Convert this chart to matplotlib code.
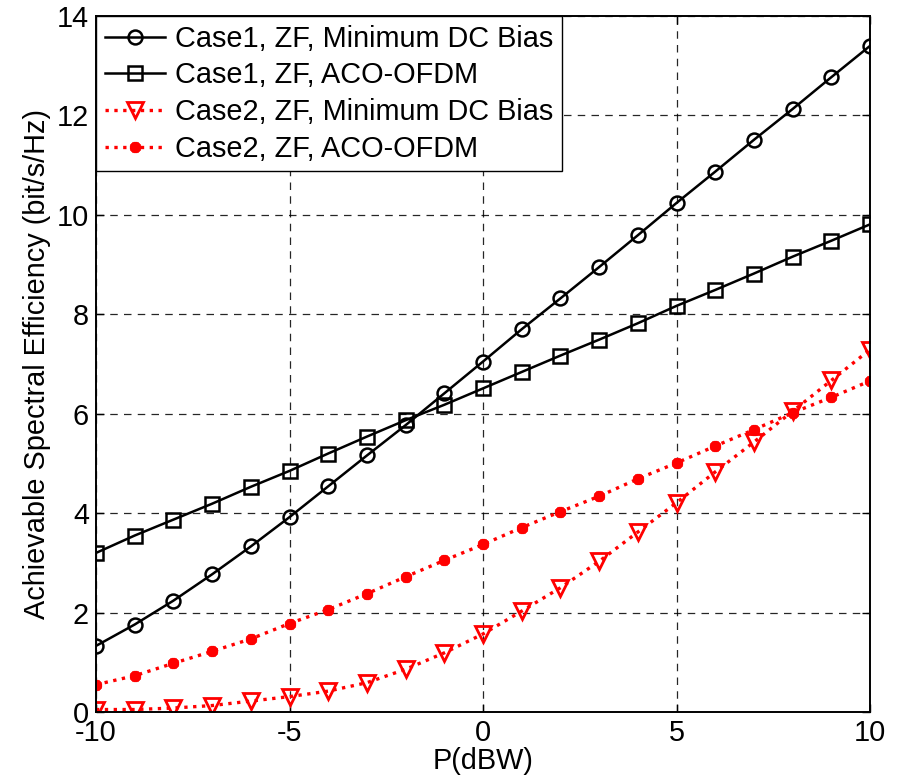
import matplotlib
matplotlib.use("Agg")
import matplotlib.pyplot as plt
import numpy as np

plt.rcParams['font.family'] = ['Liberation Sans', 'DejaVu Sans']
plt.rcParams['axes.unicode_minus'] = False

p_dbw = list(range(-10, 11))
case1_min_dc = [1.33, 1.76, 2.24, 2.77, 3.33, 3.92, 4.54, 5.16, 5.77, 6.41, 7.05,
                7.70, 8.32, 8.95, 9.59, 10.24, 10.87, 11.51, 12.13, 12.77, 13.40]
case1_aco = [3.20, 3.55, 3.87, 4.19, 4.53, 4.85, 5.20, 5.54, 5.87, 6.18, 6.51,
             6.84, 7.17, 7.49, 7.82, 8.17, 8.49, 8.82, 9.16, 9.48, 9.81]
case2_min_dc = [0.05, 0.05, 0.08, 0.13, 0.22, 0.31, 0.42, 0.59, 0.86, 1.19, 1.57,
                2.03, 2.50, 3.03, 3.62, 4.21, 4.83, 5.43, 6.05, 6.67, 7.29]
case2_aco = [0.55, 0.73, 0.98, 1.22, 1.47, 1.78, 2.06, 2.38, 2.72, 3.05, 3.37,
             3.71, 4.03, 4.34, 4.69, 5.01, 5.35, 5.68, 6.02, 6.33, 6.66]

labels = ['Case1, ZF, Minimum DC Bias', 'Case1, ZF, ACO-OFDM',
          'Case2, ZF, Minimum DC Bias', 'Case2, ZF, ACO-OFDM']

FS = 20.8

fig = plt.figure(figsize=(9.03, 7.82), dpi=100)
ax = fig.add_axes([0.1063, 0.0895, 0.9635 - 0.1063, 0.9795 - 0.0895])

ax.plot(p_dbw, case1_min_dc, '-', color='black', lw=1.8, marker='o', ms=10,
        mfc='none', mec='black', mew=1.8, label=labels[0])
ax.plot(p_dbw, case1_aco, '-', color='black', lw=1.8, marker='s', ms=9.5,
        mfc='none', mec='black', mew=1.8, label=labels[1])
ax.plot(p_dbw, case2_min_dc, ':', color='red', lw=2.4, marker='v', ms=11,
        mfc='none', mec='red', mew=2.0, label=labels[2])
ax.plot(p_dbw, case2_aco, ':', color='red', lw=2.4, marker=(8, 2, 0), ms=8,
        mfc='red', mec='red', mew=2.6, label=labels[3])

ax.set_xlim(-10, 10)
ax.set_ylim(0, 14)
ax.set_xticks([-10, -5, 0, 5, 10])
ax.set_yticks(list(range(0, 15, 2)))
ax.grid(True, linestyle=(0, (6, 5)), color='black', lw=0.9, alpha=0.85)
ax.tick_params(direction='in', top=True, right=True, labelsize=FS, length=6, width=1, pad=5)
for s in ax.spines.values():
    s.set_linewidth(1.4)
    s.set_color('black')

ax.set_xlabel('P(dBW)', fontsize=FS, labelpad=0)
ax.set_ylabel('Achievable Spectral Efficiency (bit/s/Hz)', fontsize=FS, labelpad=4)

leg = ax.legend(loc='upper left', fontsize=FS, borderaxespad=0, fancybox=False,
                edgecolor='black', framealpha=1, handlelength=2.1, labelspacing=0.3,
                borderpad=0.3, handletextpad=0.35)
leg.get_frame().set_linewidth(1.0)

fig.savefig('out.png', dpi=100)
